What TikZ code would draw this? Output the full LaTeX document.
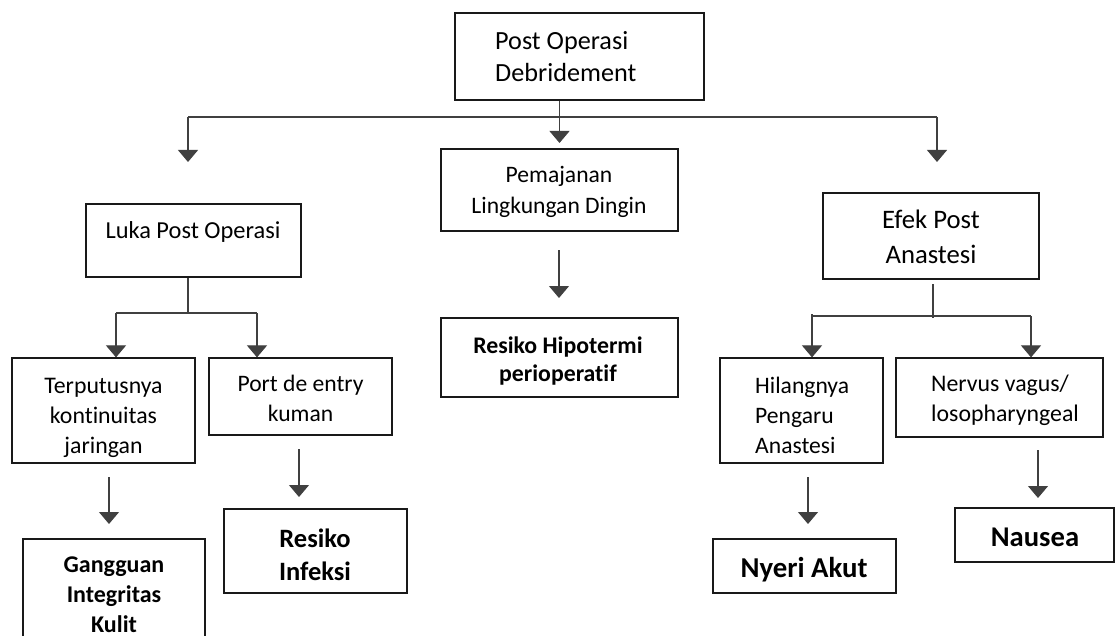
\documentclass[tikz,border=0pt]{standalone}
\usepackage{fontspec}
\setmainfont[Ligatures={NoCommon}]{Carlito}
\usetikzlibrary{arrows.meta}
\newcommand{\fsz}[2]{\fontsize{#1}{#2}\selectfont}
\begin{document}
\begin{tikzpicture}[x=1pt,y=-1pt,
  box/.style={draw=black!90, line width=1.2pt, rectangle, inner sep=0pt},
  conn/.style={draw=black!75, line width=1.1pt},
  arr/.style={conn, -{Triangle[width=20pt,length=12pt]}},
  txt/.style={inner sep=0pt, align=center, anchor=base},
  txtl/.style={inner sep=0pt, align=left, anchor=base west},
]
\useasboundingbox (0,0) rectangle (1115,636);
\clip (0,0) rectangle (1115,636);

% boxes
\node[box, minimum width=249pt, minimum height=87pt] (top) at (579.5,56.5) {};
\node[box, minimum width=237pt, minimum height=82pt] (pem) at (559.5,190) {};
\node[box, minimum width=237pt, minimum height=79pt] (hipo) at (559.5,357.5) {};
\node[box, minimum width=215pt, minimum height=73pt] (luka) at (193.5,240.5) {};
\node[box, minimum width=183pt, minimum height=105pt] (terp) at (103.5,410.5) {};
\node[box, minimum width=183pt, minimum height=77pt] (port) at (300.5,396.5) {};
\node[box, minimum width=182pt, minimum height=121pt] (gang) at (114,599.5) {};
\node[box, minimum width=183pt, minimum height=84pt] (inf) at (315.5,551) {};
\node[box, minimum width=216pt, minimum height=86pt] (efek) at (931,236) {};
\node[box, minimum width=163pt, minimum height=105pt] (hil) at (801.5,410.5) {};
\node[box, minimum width=207pt, minimum height=79pt] (nerv) at (999.5,397.5) {};
\node[box, minimum width=183pt, minimum height=54pt] (nyeri) at (804.5,566) {};
\node[box, minimum width=159pt, minimum height=54pt] (nau) at (1034.5,535) {};

% texts (anchor base = baseline of last line)
\node[txtl, font=\fsz{26.2}{32}] (ttop) at (495,82) {Post Operasi\\Debridement};
\node[txt, font=\fsz{23.6}{31}] (tpem) at (559,214) {Pemajanan\\Lingkungan Dingin};
\node[txt, font=\fsz{24.4}{28}] (tluka) at (193,238) {Luka Post Operasi};
\node[txt, font=\fsz{23.8}{30}] (tterp) at (103.5,453) {Terputusnya\\kontinuitas\\jaringan};
\node[txt, font=\fsz{23.6}{30}] (tport) at (300.5,421) {Port de entry\\kuman};
\node[txt, font=\bfseries\fsz{24}{30}] (tgang) at (114,632) {Gangguan\\Integritas\\Kulit};
\node[txt, font=\bfseries\fsz{26.5}{33}] (tinf) at (315,580) {Resiko\\Infeksi};
\node[txt, font=\bfseries\fsz{23.8}{28}] (thipo) at (558,381) {Resiko Hipotermi\\perioperatif};
\node[txt, font=\fsz{26.7}{35}] (tefek) at (931,263) {Efek Post\\Anastesi};
\node[txtl, font=\fsz{23.6}{30}] (thil) at (755,453) {Hilangnya\\Pengaru\\Anastesi};
\node[txtl, font=\fsz{23.8}{30}] (tnerv) at (931,421) {Nervus vagus/\\losopharyngeal};
\node[txt, font=\bfseries\fsz{28.8}{32}] (tnyeri) at (804,577) {Nyeri Akut};
\node[txt, font=\bfseries\fsz{28.6}{32}] (tnau) at (1035,546) {Nausea};

% coordinates
\coordinate (tipP) at (559.5,143);
\coordinate (hl) at (188,117);
\coordinate (hr) at (937,117);
\coordinate (tl) at (188,162);
\coordinate (tr) at (937,162);
\coordinate (p1) at (559,250);
\coordinate (p2) at (559,298);
\coordinate (lj) at (188,313);
\coordinate (la) at (116,313);
\coordinate (lb) at (257,313);
\coordinate (g1) at (109,477);
\coordinate (g2) at (109,524);
\coordinate (i1) at (299,449);
\coordinate (i2) at (299,497);
\coordinate (es) at (933,284);
\coordinate (ej) at (933,318);
\coordinate (ea) at (812,314);
\coordinate (eh) at (812,316);
\coordinate (eb) at (1031,316);
\coordinate (n1) at (808,477);
\coordinate (n2) at (808,524);
\coordinate (u1) at (1038,450);
\coordinate (u2) at (1038,498);

% connectors
\draw[arr] (top.south -| tipP) -- (tipP);
\draw[conn] (hl) -- (hr);
\draw[arr] (hl) -- (tl);
\draw[arr] (hr) -- (tr);
\draw[arr] (p1) -- (p2);
\draw[conn] (luka.south -| lj) -- (lj);
\draw[conn] (la) -- (lb);
\draw[arr] (la) -- (terp.north -| la);
\draw[arr] (lb) -- (port.north -| lb);
\draw[arr] (g1) -- (g2);
\draw[arr] (i1) -- (i2);
\draw[conn] (es) -- (ej);
\draw[conn] (eh) -- (eb);
\draw[arr] (ea) -- (hil.north -| ea);
\draw[arr] (eb) -- (nerv.north -| eb);
\draw[arr] (n1) -- (n2);
\draw[arr] (u1) -- (u2);
\end{tikzpicture}
\end{document}
